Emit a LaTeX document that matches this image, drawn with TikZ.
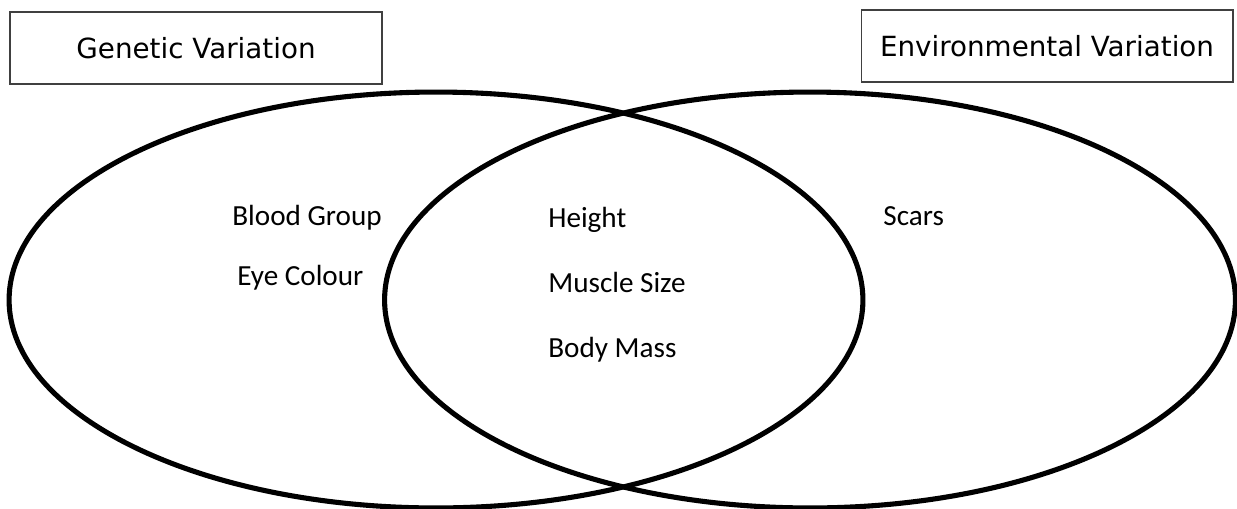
\documentclass[tikz,border=0pt]{standalone}
\usepackage{fontspec}
\setmainfont{Carlito}
\newfontfamily\boxfont{DejaVu Sans}

\begin{document}
\begin{tikzpicture}[x=0.02cm, y=-0.02cm,
        titlebox/.style={draw=black!75, line width=0.9pt, minimum width=7.43cm, minimum height=1.44cm, font=\boxfont\fontsize{15.8}{18}\selectfont},
        item/.style={anchor=base west, inner sep=0pt, font=\fontsize{16.6}{20}\selectfont},
        set/.style={line width=2.9pt}]
        \useasboundingbox (0,0) rectangle (1237,508);
        \node[titlebox] (genetic) at (196,48) {Genetic Variation};
        \node[titlebox] (environ) at (1047,46) {Environmental Variation};
        \draw[set] (436,300) ellipse [x radius=8.54cm, y radius=4.16cm];
        \draw[set] (810,300) ellipse [x radius=8.51cm, y radius=4.16cm];
        \node[item] (blood) at (232,225) {Blood Group}; \node[item] (eye) at (237,285) {Eye Colour};
        \node[item] (height) at (548,227) {Height}; \node[item] (muscle) at (548,292) {Muscle Size};
        \node[item] (mass) at (548,357) {Body Mass};
        \node[item] (scars) at (883,225) {Scars};
    \end{tikzpicture}
\end{document}
